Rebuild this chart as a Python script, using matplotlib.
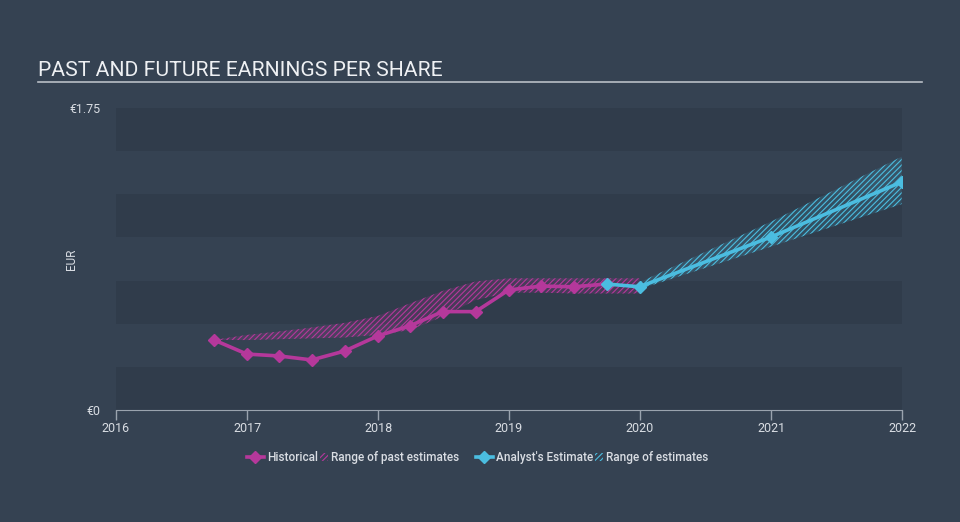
import numpy as np
import pandas as pd
import matplotlib
matplotlib.use("Agg")
import matplotlib.pyplot as plt
from matplotlib.lines import Line2D
from matplotlib.patches import Patch, Rectangle
from matplotlib.legend_handler import HandlerPatch

plt.rcParams['font.family'] = ['Roboto', 'DejaVu Sans']
plt.rcParams['hatch.linewidth'] = 0.8

# historical EPS (quarterly)
hist_dates = pd.to_datetime([
    "2016-09-30", "2016-12-31", "2017-03-31", "2017-06-30", "2017-09-30",
    "2017-12-31", "2018-03-31", "2018-06-30", "2018-09-30", "2018-12-31",
    "2019-03-31", "2019-06-30", "2019-09-30"])
hist_eps = [0.406, 0.324, 0.313, 0.290, 0.342, 0.429, 0.488, 0.570, 0.570,
            0.695, 0.718, 0.714, 0.730]

# range of past estimates
past_dates = pd.to_datetime([
    "2016-09-30", "2016-12-31", "2017-03-31", "2017-06-30", "2017-09-30",
    "2017-12-31", "2018-03-31", "2018-06-30", "2018-09-30", "2018-12-31",
    "2019-03-31", "2019-06-30", "2019-09-30", "2019-12-31"])
past_low = [0.406, 0.405, 0.41, 0.415, 0.42, 0.435, 0.463, 0.541, 0.637,
            0.680, 0.680, 0.675, 0.675, 0.675]
past_high = [0.406, 0.435, 0.455, 0.478, 0.505, 0.545, 0.618, 0.690, 0.745,
             0.763, 0.763, 0.763, 0.763, 0.763]

# analyst estimates
est_dates = pd.to_datetime(["2019-09-30", "2019-12-31", "2020-12-31", "2021-12-31"])
est_eps = [0.730, 0.714, 1.002, 1.321]
rng_dates = pd.to_datetime(["2019-12-31", "2020-12-31", "2021-12-31"])
rng_low = [0.700, 0.946, 1.193]
rng_high = [0.740, 1.091, 1.468]

years = [2016, 2017, 2018, 2019, 2020, 2021, 2022]

bg = "#354252"
band = "#303c4b"
magenta = "#b5389b"
cyan = "#4bbde0"
txt = "#d9dde3"

fig = plt.figure(figsize=(9.6, 5.22), dpi=100, facecolor=bg)
ax = fig.add_axes([0.1208, 0.2146, 0.8188, 0.5785])
ax.set_facecolor(bg)

xmin = pd.Timestamp("2016-01-01")
xmax = pd.Timestamp("2022-01-01")
for lo in [0, 0.5, 1.0, 1.5]:
    ax.axhspan(lo, lo + 0.25, color=band, zorder=0, lw=0)

ax.fill_between(past_dates, past_low, past_high, facecolor=(0.71, 0.22, 0.61, 0.18),
                edgecolor=magenta, hatch="//////", lw=0, zorder=2)
ax.fill_between(rng_dates, rng_low, rng_high, facecolor=(0.29, 0.74, 0.88, 0.15),
                edgecolor=cyan, hatch="//////", lw=0, zorder=2)

ax.plot(hist_dates, hist_eps, color=magenta, lw=2.6, marker="D", ms=6, zorder=4)
ax.plot(est_dates, est_eps, color=cyan, lw=2.6, marker="D", ms=6, zorder=4)

ax.set_xlim(xmin, xmax)
ax.set_ylim(0, 1.75)
ax.set_xticks([pd.Timestamp(f"{y}-01-01") for y in years])
ax.set_xticklabels([str(y) for y in years])
ax.set_yticks([0, 1.75])
ax.set_yticklabels(["€0", "€1.75"])
ax.tick_params(axis="x", colors="#9aa3ae", labelcolor=txt, labelsize=9, length=7, width=1, pad=2)
ax.tick_params(axis="y", length=0, labelcolor=txt, labelsize=9, pad=11)
for s in ["top", "right", "left"]:
    ax.spines[s].set_visible(False)
ax.spines["bottom"].set_color("#9aa3ae")
ax.set_ylabel("EUR", color=txt, fontsize=8.5)
ax.yaxis.set_label_coords(-0.048, 0.5)

fig.text(0.04, 0.855, "PAST AND FUTURE EARNINGS PER SHARE", color="#eef0f3",
         fontsize=15.2, ha="left", va="baseline")
fig.add_artist(Line2D([0.04, 0.96], [0.843, 0.843], color="#b8bec6", lw=1.2))


def narrow_patch(legend, orig_handle, xdescent, ydescent, width, height, fontsize):
    w = height * 0.9
    return Rectangle((-xdescent + width - w, -ydescent), w, height)


hmap = {Patch: HandlerPatch(patch_func=narrow_patch)}
groups = [
    (magenta, "Historical", "Range of past estimates", 0.368),
    (cyan, "Analyst's Estimate", "Range of estimates", 0.617),
]
for col, l1, l2, cx in groups:
    handles = [
        Line2D([], [], color=col, lw=2.6, marker="D", ms=6),
        Patch(facecolor="none", edgecolor=col, hatch="//////", lw=0),
    ]
    leg = fig.legend(handles, [l1, l2], loc="center", bbox_to_anchor=(cx, 0.124), ncol=2,
                     frameon=False, fontsize=8.5, handlelength=1.4, handletextpad=0.3,
                     columnspacing=-0.6, handler_map=hmap)
    for t in leg.get_texts():
        t.set_color(txt)
        t.set_fontweight("medium")

fig.savefig("out.png", dpi=100, facecolor=bg)
